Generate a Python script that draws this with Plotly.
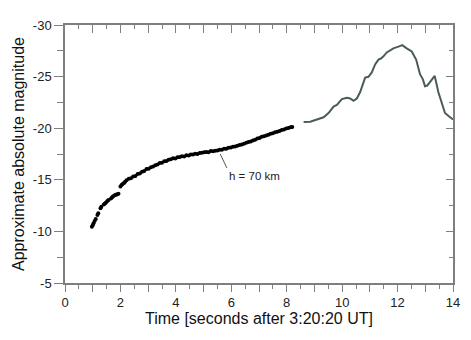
import plotly.graph_objects as go

# photometry points (black dots), time in s, magnitude
dot_t = [0.97, 1.00, 1.03, 1.07, 1.11, 1.17, 1.20, 1.28, 1.31,
         1.40, 1.44, 1.48, 1.53, 1.57, 1.66, 1.70, 1.74, 1.79, 1.84, 1.88, 1.93,
         2.00, 2.04, 2.08, 2.13, 2.17,
         2.22, 2.30, 2.38, 2.46, 2.54, 2.62, 2.70, 2.78, 2.86, 2.94,
         3.02, 3.10, 3.18, 3.26, 3.34, 3.42, 3.50, 3.58, 3.66, 3.74, 3.82, 3.90, 3.98,
         4.06, 4.14, 4.22, 4.30, 4.38, 4.46, 4.54, 4.62, 4.70, 4.78, 4.86, 4.94,
         5.02, 5.10, 5.18, 5.26, 5.34, 5.42, 5.50, 5.58, 5.66, 5.74, 5.82, 5.90, 5.98,
         6.06, 6.14, 6.22, 6.30, 6.38, 6.46, 6.54, 6.62, 6.70, 6.78, 6.86, 6.94,
         7.02, 7.10, 7.18, 7.26, 7.34, 7.42, 7.50, 7.58, 7.66, 7.74, 7.82, 7.90, 7.98,
         8.06, 8.14, 8.20]
dot_mag = [-10.45, -10.6, -10.8, -11.0, -11.2, -11.6, -11.75, -12.25, -12.4,
           -12.6, -12.7, -12.8, -12.95, -13.05, -13.2, -13.3, -13.4, -13.5, -13.55, -13.6, -13.65,
           -14.35, -14.5, -14.6, -14.7, -14.8,
           -14.95, -15.10, -15.15, -15.32, -15.38, -15.55, -15.62, -15.78, -15.86, -16.05,
           -16.08, -16.22, -16.30, -16.42, -16.48, -16.62, -16.66, -16.80, -16.82, -16.95, -16.98, -17.08, -17.06,
           -17.18, -17.22, -17.28, -17.26, -17.38, -17.36, -17.44, -17.45, -17.52, -17.50, -17.60, -17.62,
           -17.66, -17.70, -17.68, -17.78, -17.76, -17.82, -17.84, -17.90, -17.92, -18.00, -18.02, -18.10, -18.12,
           -18.20, -18.22, -18.30, -18.36, -18.42, -18.50, -18.58, -18.66, -18.72, -18.82, -18.88, -19.00,
           -19.04, -19.16, -19.22, -19.30, -19.36, -19.46, -19.50, -19.60, -19.66, -19.74, -19.82, -19.88, -19.96,
           -20.02, -20.08, -20.12]

# light curve (grey line)
line_t = [8.61, 8.85, 9.09, 9.33, 9.51, 9.69, 9.81, 9.99, 10.17, 10.29, 10.41, 10.53,
          10.65, 10.77, 10.83, 10.95, 11.07, 11.19, 11.31, 11.40, 11.49, 11.61, 11.85,
          12.03, 12.17, 12.33, 12.51, 12.67, 12.81, 12.91, 12.99, 13.07, 13.17, 13.34,
          13.47, 13.60, 13.71, 13.85, 13.95, 14.0]
line_mag = [-20.6, -20.62, -20.84, -21.06, -21.47, -22.1, -22.25, -22.82, -22.94, -22.88, -22.66, -22.88,
            -23.5, -24.44, -24.9, -24.98, -25.4, -26.18, -26.65, -26.75, -26.96, -27.34, -27.74,
            -27.9, -28.05, -27.74, -27.43, -26.65, -25.23, -24.76, -24.07, -24.13, -24.44, -25.07,
            -23.5, -22.3, -21.47, -21.15, -20.93, -20.85]

x_ticks = list(range(0, 15))
x_ticktext = ['0', '', '2', '', '4', '', '6', '', '8', '', '10', '', '12', '', '14']
y_ticks = [-30, -25, -20, -15, -10, -5]
y_ticktext = ['-30', '-25', '-20', '-15', '-10', '-5']

axis_grey = '#7f7f7f'
font = 'Liberation Sans, Arial, sans-serif'

fig = go.Figure()

fig.add_trace(go.Scatter(
    x=dot_t, y=dot_mag, mode='markers',
    marker=dict(color='black', size=4, line=dict(width=0)),
    showlegend=False
))
fig.add_trace(go.Scatter(
    x=line_t, y=line_mag, mode='lines',
    line=dict(color='#4b5b5b', width=2),
    showlegend=False
))
# empty trace so the top/right axes get drawn
fig.add_trace(go.Scatter(x=[], y=[], xaxis='x2', yaxis='y2', showlegend=False, hoverinfo='skip'))

# leader line + label
fig.add_shape(type='line', x0=5.60, y0=-17.5, x1=5.84, y1=-16.15,
              line=dict(color='#555555', width=1))
fig.add_annotation(x=5.86, y=-15.35, text='h = 70 km', showarrow=False,
                   xanchor='left', yanchor='middle',
                   font=dict(family=font, size=11.5, color='#222222'))

# page body has an 8px margin, so the figure is 8px smaller and shifted
fig.update_layout(
    width=463, height=332,
    margin=dict(l=56, r=18, t=10, b=57),
    plot_bgcolor='white', paper_bgcolor='white',
    font=dict(family=font, color='#222222'),
    xaxis=dict(
        range=[0, 14], showgrid=False, zeroline=False,
        showline=True, linecolor=axis_grey, linewidth=1.5,
        tickmode='array', tickvals=x_ticks, ticktext=x_ticktext,
        ticks='outside', ticklen=7, tickcolor=axis_grey, tickwidth=1,
        minor=dict(dtick=0.5, tick0=0, ticks='outside', ticklen=4, tickcolor=axis_grey, tickwidth=1),
        tickfont=dict(size=13, color='#222222'),
        title=dict(text='Time [seconds after 3:20:20 UT]', font=dict(size=16, color='#111111'), standoff=3),
    ),
    yaxis=dict(
        range=[-5, -30], showgrid=False, zeroline=False,
        showline=True, linecolor=axis_grey, linewidth=1.5,
        tickmode='array', tickvals=y_ticks, ticktext=y_ticktext,
        ticks='outside', ticklen=9, tickcolor=axis_grey, tickwidth=1,
        minor=dict(dtick=2.5, tick0=0, ticks='outside', ticklen=6, tickcolor=axis_grey, tickwidth=1),
        tickfont=dict(size=13, color='#222222'),
        title=dict(text='Approximate absolute magnitude', font=dict(size=16, color='#111111'), standoff=4),
    ),
    xaxis2=dict(
        overlaying='x', side='top', anchor='y', range=[0, 14],
        showgrid=False, zeroline=False, showticklabels=False,
        showline=True, linecolor=axis_grey, linewidth=1.5,
        tickmode='array', tickvals=x_ticks,
        ticks='inside', ticklen=8, tickcolor=axis_grey, tickwidth=1,
        minor=dict(dtick=0.5, tick0=0, ticks='inside', ticklen=4, tickcolor=axis_grey, tickwidth=1),
    ),
    yaxis2=dict(
        overlaying='y', side='right', anchor='x', range=[-5, -30],
        showgrid=False, zeroline=False, showticklabels=False,
        showline=True, linecolor=axis_grey, linewidth=1.5,
        tickmode='array', tickvals=y_ticks,
        ticks='inside', ticklen=7, tickcolor=axis_grey, tickwidth=1,
        minor=dict(dtick=2.5, tick0=0, ticks='inside', ticklen=4, tickcolor=axis_grey, tickwidth=1),
    ),
)

fig.write_html("out.html")
